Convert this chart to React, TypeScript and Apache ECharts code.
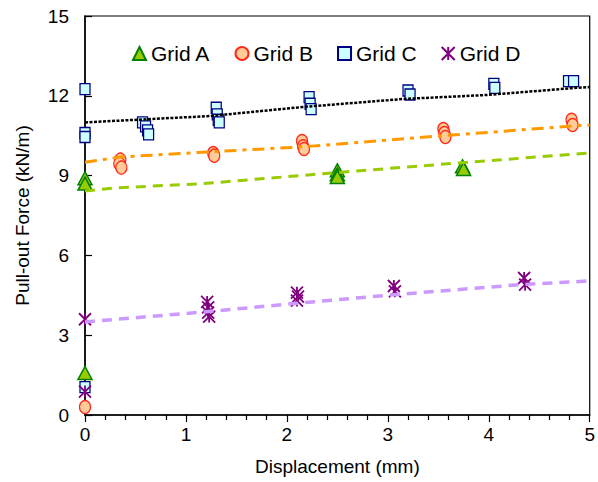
import React, { useEffect, useRef } from "react";
import * as echarts from "echarts";

const xTickLabels = ["0", "1", "2", "3", "4", "5"];
const yTickLabels = ["0", "3", "6", "9", "12", "15"];

const gridAX = [0, 0, 0, 2.5, 2.5, 2.5, 3.74, 3.75];
const gridAY = [1.58, 8.9, 8.7, 9.2, 9.05, 8.95, 9.35, 9.25];

const gridBX = [0, 0.35, 0.34, 0.36, 1.27, 1.28, 2.15, 2.16, 2.17, 3.55, 3.56, 3.57, 4.82, 4.83];
const gridBY = [0.3, 9.6, 9.45, 9.3, 9.85, 9.75, 10.3, 10.1, 10.0, 10.75, 10.6, 10.45, 11.1, 10.9];

const gridCX = [0, 0, 0, 0, 0.57, 0.6, 0.62, 0.63, 1.3, 1.31, 1.32, 1.33, 2.22, 2.23, 2.24, 3.2, 3.22, 4.05, 4.06, 4.79, 4.84];
const gridCY = [12.25, 10.6, 10.45, 1.05, 11.0, 10.85, 10.7, 10.55, 11.55, 11.3, 11.1, 11.0, 11.95, 11.7, 11.5, 12.2, 12.05, 12.45, 12.3, 12.55, 12.55];

const gridDX = [0, 0, 1.21, 1.22, 1.22, 1.23, 2.1, 2.11, 2.1, 3.06, 3.07, 4.35, 4.36];
const gridDY = [3.6, 0.88, 4.25, 4.05, 3.85, 3.7, 4.6, 4.45, 4.3, 4.85, 4.65, 5.15, 4.9];

const trendCX = [0, 1.24, 2.16, 3.15, 3.98, 4.87, 5];
const trendCY = [11.0, 11.24, 11.58, 11.88, 12.03, 12.3, 12.33];

const trendBX = [0, 0.35, 1.27, 2.15, 3.55, 4.82, 5];
const trendBY = [9.5, 9.7, 9.9, 10.08, 10.5, 10.86, 10.9];

const trendAX = [0, 0.28, 1.17, 2.45, 3.68, 5];
const trendAY = [8.42, 8.53, 8.7, 9.1, 9.47, 9.85];

const trendDX = [0, 1.17, 2.1, 2.99, 4.31, 5];
const trendDY = [3.5, 3.87, 4.2, 4.5, 4.9, 5.04];

const zip = (xs: number[], ys: number[]) => xs.map((x, i) => [x, ys[i]]);

const STAR = "path://M0,0L10,10M10,0L0,10M5,0L5,10";
const FONT = "Liberation Sans";

export default function App() {
  const ref = useRef<HTMLDivElement>(null);
  useEffect(() => {
    const chart = echarts.init(ref.current!, null, { renderer: "svg" });
    chart.setOption({
      animation: false,
      textStyle: { fontFamily: FONT },
      grid: { left: 85, right: 8, top: 16, bottom: 67, show: true, borderColor: "#000", borderWidth: 1.2 },
      legend: {
        top: 38,
        left: 127,
        itemGap: 24,
        itemWidth: 13,
        itemHeight: 13,
        textStyle: { fontSize: 21, color: "#000", fontFamily: FONT },
        data: ["Grid A", "Grid B", "Grid C", "Grid D"],
      },
      xAxis: {
        type: "value",
        min: 0,
        max: 5,
        interval: 1,
        name: "Displacement (mm)",
        nameLocation: "middle",
        nameGap: 42,
        nameTextStyle: { fontSize: 19, color: "#000", fontFamily: FONT },
        axisLine: { onZero: false, lineStyle: { color: "#000", width: 1.5 } },
        axisTick: { inside: false, length: 7, lineStyle: { color: "#000", width: 1.2 } },
        minorTick: { show: true, splitNumber: 5, length: 5, lineStyle: { color: "#000", width: 1.2 } },
        splitLine: { show: false },
        axisLabel: {
          fontSize: 19,
          color: "#000",
          margin: 10,
          fontFamily: FONT,
          formatter: (v: number) => xTickLabels[Math.round(v)] ?? "",
        },
      },
      yAxis: {
        type: "value",
        min: 0,
        max: 15,
        interval: 3,
        name: "Pull-out Force (kN/m)",
        nameLocation: "middle",
        nameGap: 53,
        nameTextStyle: { fontSize: 19, color: "#000", fontFamily: FONT },
        axisLine: { onZero: false, lineStyle: { color: "#000", width: 1.5 } },
        axisTick: { inside: true, length: 7, lineStyle: { color: "#000", width: 1.2 } },
        splitLine: { show: false },
        axisLabel: {
          fontSize: 19,
          color: "#000",
          margin: 16,
          fontFamily: FONT,
          formatter: (v: number) => yTickLabels[Math.round(v / 3)] ?? "",
        },
      },
      series: [
        {
          name: "Grid A",
          type: "scatter",
          symbol: "triangle",
          symbolSize: [14, 13],
          itemStyle: { color: "#99cc00", borderColor: "#008000", borderWidth: 1.5, opacity: 1 },
          data: zip(gridAX, gridAY),
          z: 2,
        },
        {
          name: "Grid B",
          type: "scatter",
          symbol: "circle",
          symbolSize: [11, 13],
          itemStyle: { color: "#ffcc99", borderColor: "#ff2a1a", borderWidth: 1.3, opacity: 1 },
          data: zip(gridBX, gridBY),
          z: 2,
        },
        {
          name: "Grid C",
          type: "scatter",
          symbol: "rect",
          symbolSize: [10, 11],
          itemStyle: { color: "#ccffff", borderColor: "#000080", borderWidth: 1.3, opacity: 1 },
          data: zip(gridCX, gridCY),
          z: 2,
        },
        {
          name: "Grid D",
          type: "scatter",
          symbol: STAR,
          symbolSize: [12, 12],
          itemStyle: { color: "#800080", borderColor: "#800080", borderWidth: 1.8, opacity: 1 },
          data: zip(gridDX, gridDY),
          z: 2,
        },
        {
          name: "trendC",
          type: "line",
          showSymbol: false,
          symbol: "none",
          lineStyle: { color: "#000", width: 2.5, type: [3, 1.5] },
          data: zip(trendCX, trendCY),
          z: 3,
        },
        {
          name: "trendB",
          type: "line",
          showSymbol: false,
          symbol: "none",
          lineStyle: { color: "#ff9900", width: 3, type: [12, 6, 4, 6] },
          data: zip(trendBX, trendBY),
          z: 3,
        },
        {
          name: "trendA",
          type: "line",
          showSymbol: false,
          symbol: "none",
          lineStyle: { color: "#99cc00", width: 3, type: [10, 7] },
          data: zip(trendAX, trendAY),
          z: 3,
        },
        {
          name: "trendD",
          type: "line",
          showSymbol: false,
          symbol: "none",
          lineStyle: { color: "#cc99ff", width: 3.5, type: [10, 7] },
          data: zip(trendDX, trendDY),
          z: 3,
        },
      ],
    });
    return () => chart.dispose();
  }, []);
  return (
    <div
      ref={ref}
      style={{ position: "absolute", left: 0, top: 0, width: 598, height: 482, background: "#fff" }}
    />
  );
}
